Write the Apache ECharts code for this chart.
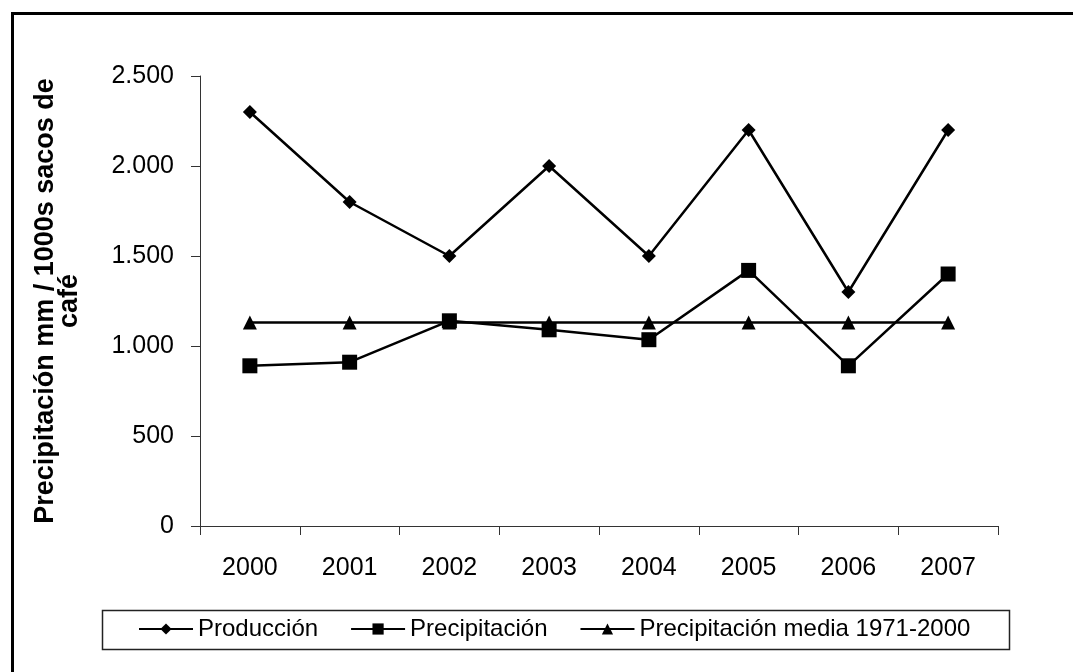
<!DOCTYPE html>
<html>
<head>
<meta charset="utf-8">
<script src="https://cdn.jsdelivr.net/npm/echarts@6/dist/echarts.min.js"></script>
<style>
  html, body { margin: 0; padding: 0; background: #fff; }
  #chart { width: 1073px; height: 672px; }
</style>
</head>
<body>
<div id="chart"></div>
<script>
// data
const years = ['2000', '2001', '2002', '2003', '2004', '2005', '2006', '2007']
const produccion = [2300, 1800, 1500, 2000, 1500, 2200, 1300, 2200]
const precipitacion = [890, 910, 1140, 1090, 1035, 1420, 890, 1400]
const precipMedia = [1130, 1130, 1130, 1130, 1130, 1130, 1130, 1130]
const seriesNames = ['Producción', 'Precipitación', 'Precipitación media 1971-2000']
const yAxisName = 'Precipitación mm / 1000s sacos de\ncafé'

const font = '"Liberation Sans", Arial, sans-serif'

// 2500 -> "2.500"
function thousands(v) {
  if (v < 1000) return String(v)
  return Math.floor(v / 1000) + '.' + String(v % 1000).padStart(3, '0')
}

function lineSeries(name, data, symbol, size) {
  return {
    name: name,
    type: 'line',
    data: data,
    symbol: symbol,
    symbolSize: size,
    showAllSymbol: true,
    lineStyle: { color: '#000', width: 2.5 },
    itemStyle: { color: '#000' },
    emphasis: { disabled: true },
    z: 3
  }
}

const chart = echarts.init(document.getElementById('chart'))
const option = {
  animation: false,
  backgroundColor: '#fff',
  textStyle: { fontFamily: font },
  grid: { left: 200, right: 75, top: 76, bottom: 146 },
  xAxis: {
    type: 'category',
    data: years,
    boundaryGap: true,
    axisLine: { lineStyle: { color: '#333', width: 1 } },
    axisTick: { show: true, length: 9, inside: false, lineStyle: { color: '#333' } },
    axisLabel: { color: '#000', fontSize: 25, margin: 30, fontFamily: font },
    splitLine: { show: false }
  },
  yAxis: {
    type: 'value',
    min: 0,
    max: 2500,
    interval: 500,
    name: yAxisName,
    nameLocation: 'middle',
    nameRotate: 90,
    nameGap: 118,
    nameTextStyle: { color: '#000', fontSize: 27, fontWeight: 'bold', lineHeight: 24, fontFamily: font },
    axisLine: { show: true, lineStyle: { color: '#333', width: 1 } },
    axisTick: { show: true, length: 9, lineStyle: { color: '#333' } },
    axisLabel: { color: '#000', fontSize: 25, margin: 26, formatter: thousands, fontFamily: font },
    splitLine: { show: false }
  },
  legend: {
    left: 138,
    top: 617,
    padding: 0,
    itemWidth: 54,
    itemHeight: 14,
    itemGap: 32,
    textStyle: { color: '#000', fontSize: 24, fontFamily: font },
    data: seriesNames
  },
  graphic: [
    {
      type: 'rect',
      shape: { x: 102.5, y: 610.5, width: 907, height: 39 },
      style: { fill: null, stroke: '#222', lineWidth: 1.5 },
      silent: true
    },
    {
      type: 'polyline',
      shape: { points: [[12.5, 672], [12.5, 13.5], [1073, 13.5]] },
      style: { fill: null, stroke: '#000', lineWidth: 3 },
      silent: true
    }
  ],
  series: [
    lineSeries(seriesNames[0], produccion, 'diamond', 14),
    lineSeries(seriesNames[1], precipitacion, 'rect', 15),
    lineSeries(seriesNames[2], precipMedia, 'triangle', 14)
  ]
}
chart.setOption(option)
</script>
</body>
</html>
